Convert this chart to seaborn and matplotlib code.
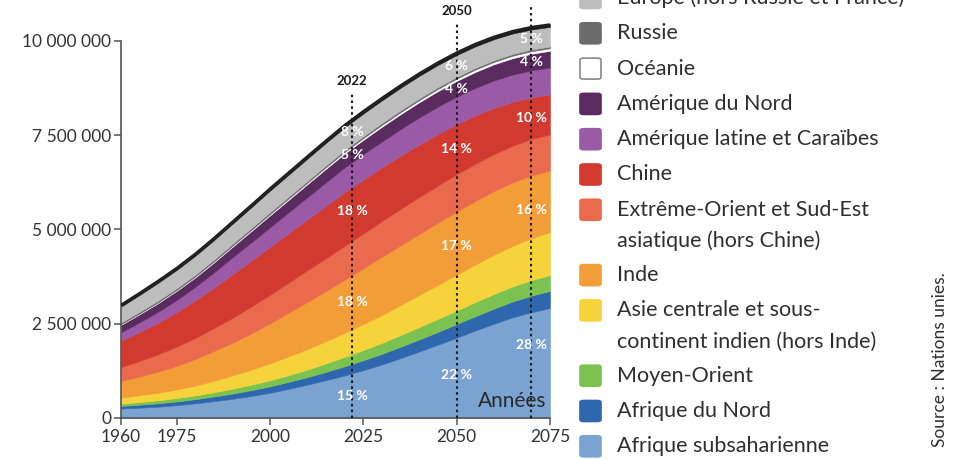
import matplotlib
matplotlib.use("Agg")
import matplotlib.pyplot as plt
import numpy as np
import pandas as pd
import seaborn as sns
from matplotlib.patches import FancyBboxPatch
from matplotlib.ticker import FuncFormatter, FixedLocator

# ---------------- data (population, in millions of people) ----------------
years = [1960, 1965, 1970, 1975, 1980, 1985, 1990, 1995, 2000, 2005, 2010, 2015,
         2020, 2025, 2030, 2035, 2040, 2045, 2050, 2055, 2060, 2065, 2070, 2075]

afrique_subsaharienne = [250, 273, 300, 340, 390, 447, 510, 585, 670, 775, 885, 1003,
                         1130, 1270, 1420, 1590, 1765, 1945, 2130, 2320, 2500, 2670, 2805, 2915]
afrique_du_nord       = [70, 80, 90, 100, 110, 125, 140, 155, 170, 185, 200, 222,
                         243, 263, 283, 302, 320, 340, 360, 380, 400, 420, 440, 455]
moyen_orient          = [60, 70, 80, 90, 100, 115, 130, 145, 160, 180, 200, 225,
                         250, 270, 290, 310, 330, 345, 360, 375, 390, 400, 410, 420]
asie_centrale         = [160, 178, 200, 228, 260, 302, 350, 400, 450, 495, 540, 590,
                         640, 690, 740, 795, 850, 900, 950, 995, 1040, 1075, 1110, 1140]
inde                  = [440, 497, 560, 628, 705, 793, 870, 963, 1060, 1159, 1254, 1332,
                         1406, 1477, 1544, 1584, 1617, 1648, 1670, 1685, 1690, 1681, 1663, 1631]
extreme_orient        = [370, 415, 460, 510, 560, 610, 660, 710, 760, 800, 840, 870,
                         900, 925, 950, 967, 980, 988, 990, 987, 980, 975, 970, 960]
chine                 = [700, 770, 840, 915, 1000, 1070, 1160, 1220, 1270, 1310, 1350, 1390,
                         1425, 1428, 1420, 1408, 1390, 1365, 1330, 1280, 1220, 1160, 1100, 1060]
amerique_latine       = [220, 255, 290, 325, 360, 405, 450, 485, 520, 555, 590, 625,
                         652, 675, 690, 707, 720, 727, 730, 731, 730, 726, 720, 710]
amerique_du_nord      = [200, 215, 230, 240, 250, 265, 280, 300, 320, 333, 345, 358,
                         370, 382, 390, 398, 405, 413, 420, 425, 430, 435, 440, 445]
oceanie               = [16, 18, 20, 21, 23, 25, 27, 29, 31, 34, 37, 40,
                         43, 46, 48, 51, 53, 56, 58, 60, 62, 64, 66, 68]
russie                = [45, 47, 48, 49, 50, 51, 52, 52, 52, 51, 50, 50,
                         50, 50, 50, 50, 49, 49, 48, 48, 47, 47, 46, 46]
europe                = [420, 445, 470, 485, 500, 515, 530, 550, 570, 580, 590, 595,
                         600, 600, 600, 598, 595, 588, 580, 568, 555, 542, 530, 520]
france                = [60, 62, 63, 65, 66, 67, 68, 69, 70, 71, 72, 73,
                         74, 74, 75, 75, 76, 76, 76, 76, 76, 75, 75, 75]

series_names = ["Afrique subsaharienne", "Afrique du Nord", "Moyen-Orient",
                "Asie centrale et sous-\ncontinent indien (hors Inde)", "Inde",
                "Extrême-Orient et Sud-Est\nasiatique (hors Chine)", "Chine",
                "Amérique latine et Caraïbes", "Amérique du Nord", "Océanie",
                "Russie", "Europe (hors Russie et France)", "France"]
series_values = [afrique_subsaharienne, afrique_du_nord, moyen_orient, asie_centrale,
                 inde, extreme_orient, chine, amerique_latine, amerique_du_nord,
                 oceanie, russie, europe, france]
series_colors = ["#7aa3d1", "#2f67ae", "#7cc250", "#f6d33b", "#f29d38", "#ea6a4e",
                 "#d23a30", "#9a5aa6", "#5a2b5f", "#ffffff", "#6b6b6b", "#bdbdbd", "#1c1c1c"]

y_ticks = [0, 2500000, 5000000, 7500000, 10000000]
x_ticks = [1960, 1975, 2000, 2025, 2050, 2075]
marker_years = [2022, 2050, 2070]

# percentage labels: (year, series index, text, relative position in band)
pct_labels = [
    (2022, 11, "8 %", 0.55), (2022, 8, "5 %", 0.5), (2022, 6, "18 %", 0.55),
    (2022, 4, "18 %", 0.5), (2022, 0, "15 %", 0.5),
    (2050, 11, "6 %", 0.5), (2050, 8, "4 %", 0.5), (2050, 6, "14 %", 0.5),
    (2050, 4, "17 %", 0.45), (2050, 0, "22 %", 0.53),
    (2070, 11, "5 %", 0.55), (2070, 8, "4 %", 0.5), (2070, 6, "10 %", 0.5),
    (2070, 4, "16 %", 0.45), (2070, 0, "28 %", 0.69),
]

for v in series_values:
    assert len(v) == len(years)

# ---------------- build table (values in thousands) ----------------
df = pd.DataFrame({"annee": years})
for name, vals in zip(series_names, series_values):
    df[name] = np.array(vals, dtype=float) * 1000.0
stack = df[series_names].to_numpy()
cum = np.cumsum(stack, axis=1)
lower = np.hstack([np.zeros((len(years), 1)), cum[:, :-1]])
df["total"] = cum[:, -1]

# ---------------- figure ----------------
sns.set_theme(style="white")
plt.rcParams["font.family"] = ["Lato", "DejaVu Sans"]

W, H = 966, 459
fig = plt.figure(figsize=(W / 100, H / 100), dpi=100)
ax_left, ax_right = 121 / W, 550 / W
ax_bottom, ax_top = (H - 418) / H, (H - 22) / H
ax = fig.add_axes([ax_left, ax_bottom, ax_right - ax_left, ax_top - ax_bottom])

x = df["annee"].to_numpy(dtype=float)
for i, (name, col) in enumerate(zip(series_names, series_colors)):
    ax.fill_between(x, lower[:, i], cum[:, i], facecolor=col, edgecolor=col,
                    linewidth=0.4, zorder=2)

sns.lineplot(data=df, x="annee", y="total", color="#1c1c1c", linewidth=1.2, ax=ax,
             zorder=3, legend=False)

ax.set_xlim(1960, 2075)
ax.set_ylim(0, 10500000)
ax.set_xlabel("")
ax.set_ylabel("")
ax.xaxis.set_major_locator(FixedLocator(x_ticks))
ax.yaxis.set_major_locator(FixedLocator(y_ticks))
ax.yaxis.set_major_formatter(FuncFormatter(lambda v, p: f"{int(v):,}".replace(",", " ")))

for s in ["top", "right"]:
    ax.spines[s].set_visible(False)
for s in ["left", "bottom"]:
    ax.spines[s].set_color("#555555")
    ax.spines[s].set_linewidth(1.2)
ax.spines["left"].set_bounds(0, 10000000)
ax.tick_params(axis="both", which="major", direction="out", length=5, width=1.1,
               color="#555555", labelcolor="#333333", labelsize=12.5, pad=2,
               left=True, bottom=True)
ax.tick_params(axis="x", pad=3)
ax.patch.set_alpha(0)

# marker years: dotted lines + bold labels
line_tops = {2022: 8650000, 2050: 10500000, 2070: 10900000}
for yr in marker_years:
    ax.plot([yr, yr], [0, line_tops[yr]], linestyle=(0, (1.2, 1.6)), color="#1a1a1a",
            linewidth=1.5, zorder=4, clip_on=False)
    ax.text(yr, line_tops[yr] + 120000, str(yr), ha="center", va="bottom",
            fontsize=9.5, fontweight="bold", color="#1a1a1a", clip_on=False)

# percentage labels (placed inside their band at the marker year)
for yr, idx, txt, frac in pct_labels:
    lo = np.interp(yr, x, lower[:, idx])
    hi = np.interp(yr, x, cum[:, idx])
    yv = lo + frac * (hi - lo)
    ax.text(yr, yv, txt, ha="center", va="center", fontsize=10, fontweight="bold",
            color="white", zorder=5)

ax.text(2074, 180000, "Années", ha="right", va="bottom", fontsize=15, color="#2a2a2a",
        zorder=5)

# ---------------- legend (drawn manually, top to bottom) ----------------
legend_order = list(range(len(series_names) - 2, -1, -1))  # Europe .. Afrique subsaharienne
ypx = -2.0
for idx in legend_order:
    name = series_names[idx]
    col = series_colors[idx]
    lines = name.split("\n")
    sq = 21
    fy = 1 - (ypx + sq / 2) / H
    edge = "#888888" if col == "#ffffff" else col
    patch = FancyBboxPatch((580 / W, fy), sq / W, sq / H,
                           boxstyle="round,pad=0,rounding_size=0.004",
                           transform=fig.transFigure, facecolor=col, edgecolor=edge,
                           linewidth=1.2, clip_on=False)
    fig.add_artist(patch)
    for k, ln in enumerate(lines):
        fig.text(617 / W, 1 - (ypx + k * 31) / H, ln, ha="left", va="center",
                 fontsize=15.5, color="#2f2f2f")
    ypx += 35.3 + 30 * (len(lines) - 1)

fig.text(940 / W, 1 - 360 / H, "Source : Nations unies.", rotation=90, ha="center",
         va="center", fontsize=12.5, color="#2f2f2f")

fig.savefig("out.png", dpi=100)
